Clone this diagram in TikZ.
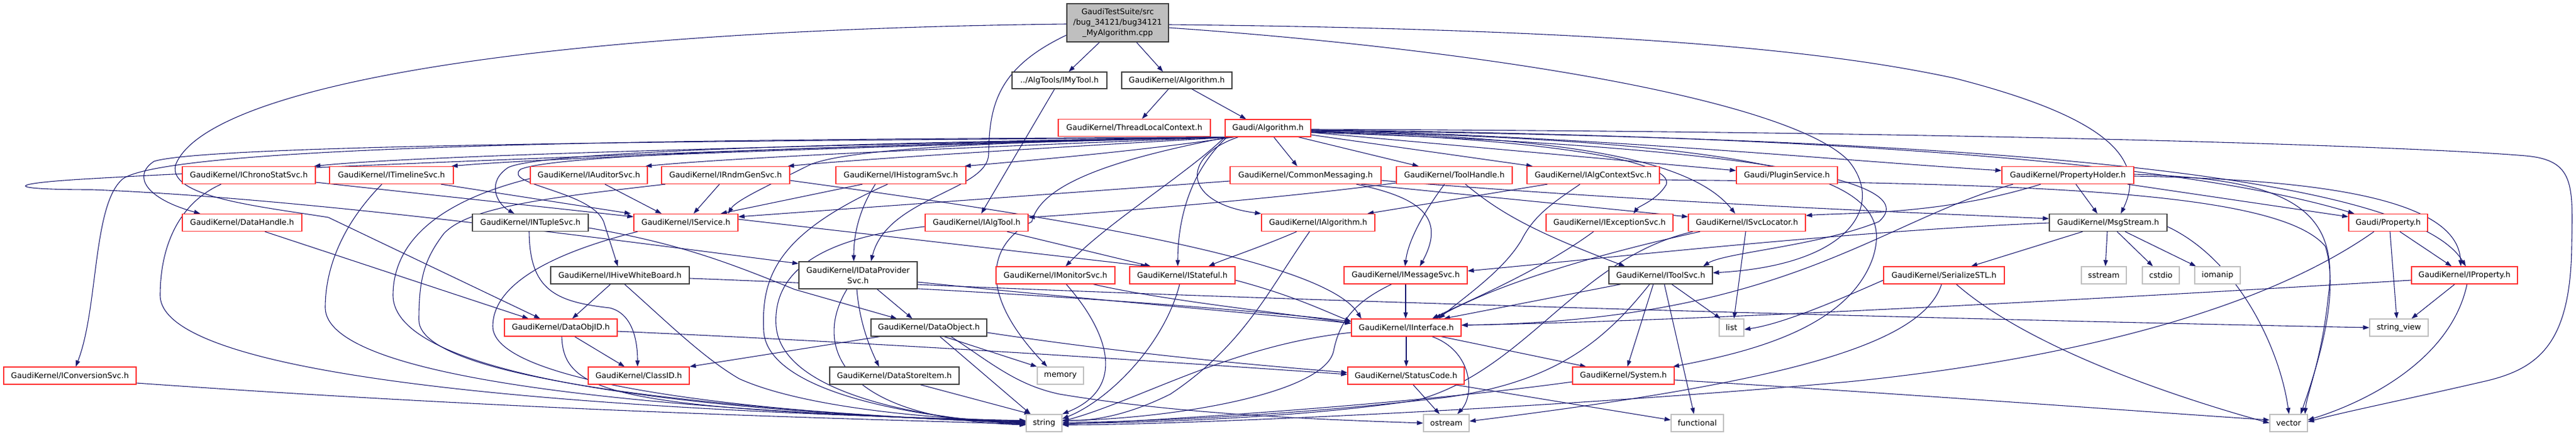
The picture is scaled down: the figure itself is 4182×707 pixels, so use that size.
\documentclass[tikz,border=0pt]{standalone}
\usepackage{fontspec}
\setmainfont{DejaVu Sans}
\usetikzlibrary{arrows.meta}
\definecolor{edgec}{HTML}{191970}
\definecolor{redc}{HTML}{FF3030}
\definecolor{grayc}{HTML}{BFBFBF}
\definecolor{blackc}{HTML}{404040}
\pgfdeclarelayer{edgelayer}
\pgfsetlayers{edgelayer,main}
\tikzset{
  box/.style={draw, rectangle, inner sep=0pt, fill=white, line width=1.3pt,
    font=\fontsize{12.7pt}{17pt}\selectfont, minimum height=28pt, align=center},
  rb/.style={box, draw=redc},
  kb/.style={box, draw=blackc},
  gb/.style={box, draw=grayc},
  rootb/.style={box, draw=blackc, fill=grayc},
  e/.style={draw=edgec, line width=1.1pt, -{Triangle[length=10pt,width=7pt]}, edgec}
}
\begin{document}
\begin{tikzpicture}[x=1pt,y=-1pt]
\useasboundingbox (0,0) rectangle (4182,707);
% ---------- nodes ----------
\node[rootb, minimum width=165pt, minimum height=62pt] (root) at (1814.5,37) {GaudiTestSuite/src\\/bug\_34121/bug34121\\\_MyAlgorithm.cpp};
\node[kb, minimum width=154pt, minimum height=27pt] (imytool) at (1720,130.5) {../AlgTools/IMyTool.h};
\node[kb, minimum width=179pt, minimum height=27pt] (algk) at (1910.5,130.5) {GaudiKernel/Algorithm.h};
\node[rb, minimum width=247pt] (tlc) at (1841.5,207.5) {GaudiKernel/ThreadLocalContext.h};
\node[rb, minimum width=139pt] (galg) at (2058.5,208) {Gaudi/Algorithm.h};
\node[rb, minimum width=216pt] (ichrono) at (404,284.5) {GaudiKernel/IChronoStatSvc.h};
\node[rb, minimum width=201pt] (itimeline) at (635.5,284.5) {GaudiKernel/ITimelineSvc.h};
\node[rb, minimum width=190pt] (iauditor) at (956,284.5) {GaudiKernel/IAuditorSvc.h};
\node[rb, minimum width=208pt] (irndm) at (1178,284.5) {GaudiKernel/IRndmGenSvc.h};
\node[rb, minimum width=211pt] (ihisto) at (1462.5,284.5) {GaudiKernel/IHistogramSvc.h};
\node[rb, minimum width=245pt] (commsg) at (2119.5,284.5) {GaudiKernel/CommonMessaging.h};
\node[rb, minimum width=188pt] (toolh) at (2361,284.5) {GaudiKernel/ToolHandle.h};
\node[rb, minimum width=215pt] (ialgctx) at (2586.5,284.5) {GaudiKernel/IAlgContextSvc.h};
\node[rb, minimum width=164pt] (plugin) at (2901,284.5) {Gaudi/PluginService.h};
\node[rb, minimum width=214pt] (propholder) at (3357,284.5) {GaudiKernel/PropertyHolder.h};
\node[rb, minimum width=194pt] (dhandle) at (393,361.5) {GaudiKernel/DataHandle.h};
\node[kb, minimum width=188pt] (intuple) at (861,361.5) {GaudiKernel/INTupleSvc.h};
\node[rb, minimum width=169pt] (iservice) at (1113.5,361.5) {GaudiKernel/IService.h};
\node[rb, minimum width=167pt] (ialgtool) at (1585.5,361.5) {GaudiKernel/IAlgTool.h};
\node[rb, minimum width=184pt] (ialgorithm) at (2140,361.5) {GaudiKernel/IAlgorithm.h};
\node[rb, minimum width=206pt] (iexc) at (2613,361.5) {GaudiKernel/IExceptionSvc.h};
\node[rb, minimum width=190pt] (isvcloc) at (2836,361.5) {GaudiKernel/ISvcLocator.h};
\node[kb, minimum width=191pt] (msgstream) at (3422.5,361.5) {GaudiKernel/MsgStream.h};
\node[rb, minimum width=128pt] (gprop) at (3877,361.5) {Gaudi/Property.h};
\node[kb, minimum width=225pt] (ihive) at (1006.5,447) {GaudiKernel/IHiveWhiteBoard.h};
\node[kb, minimum width=192pt, minimum height=44pt] (idps) at (1393,447) {GaudiKernel/IDataProvider\\Svc.h};
\node[rb, minimum width=193pt] (imonitor) at (1713.5,447) {GaudiKernel/IMonitorSvc.h};
\node[rb, minimum width=171pt] (istateful) at (1919.5,447) {GaudiKernel/IStateful.h};
\node[rb, minimum width=200pt] (imsgsvc) at (2282,447) {GaudiKernel/IMessageSvc.h};
\node[kb, minimum width=168pt] (itoolsvc) at (2696,447) {GaudiKernel/IToolSvc.h};
\node[rb, minimum width=196pt] (serstl) at (3156,447) {GaudiKernel/SerializeSTL.h};
\node[gb, minimum width=73pt] (sstream) at (3415.5,447) {sstream};
\node[gb, minimum width=60pt] (cstdio) at (3508,447) {cstdio};
\node[gb, minimum width=74pt] (iomanip) at (3600,447) {iomanip};
\node[rb, minimum width=172pt] (iprop) at (4001,447) {GaudiKernel/IProperty.h};
\node[rb, minimum width=183pt] (dobjid) at (910.5,532) {GaudiKernel/DataObjID.h};
\node[kb, minimum width=188pt] (dobject) at (1508,532) {GaudiKernel/DataObject.h};
\node[rb, minimum width=178pt] (iinterface) at (2283,532) {GaudiKernel/IInterface.h};
\node[gb, minimum width=40pt] (list) at (2811,532) {list};
\node[gb, minimum width=95pt] (strview) at (3894.5,532) {string\_view};
\node[rb, minimum width=215pt] (iconv) at (113.5,610) {GaudiKernel/IConversionSvc.h};
\node[rb, minimum width=164pt] (classid) at (1037,610) {GaudiKernel/ClassID.h};
\node[kb, minimum width=210pt] (dsitem) at (1452,610) {GaudiKernel/DataStoreItem.h};
\node[gb, minimum width=75pt] (memory) at (1721.5,610) {memory};
\node[rb, minimum width=189pt] (statuscode) at (2282.5,610) {GaudiKernel/StatusCode.h};
\node[rb, minimum width=165pt] (system) at (2635.5,610) {GaudiKernel/System.h};
\node[gb, minimum width=58pt] (string) at (1695,687) {string};
\node[gb, minimum width=74pt] (ostream) at (2348,687) {ostream};
\node[gb, minimum width=85pt] (functional) at (2755.5,687) {functional};
\node[gb, minimum width=61pt] (vector) at (3715.5,687) {vector};
% ---------- edges ----------
\begin{pgfonlayer}{edgelayer}
% root
\draw[e] (root.south -| 1785,0) -- (imytool.north -| 1735,0);
\draw[e] (root.south -| 1845,0) -- (algk.north -| 1888,0);
\draw[e] (root.west |- 0,39) .. controls (800,50) and (330,150) .. (285,268) .. controls (272,320) and (420,335) .. (533,353) -- (dobjid.north -| 877,0);
\draw[e] (root.west |- 0,57) .. controls (1620,110) and (1606,170) .. (1605,250) .. controls (1604,310) and (1440,320) .. (idps.north -| 1414,0);
\draw[e] (root.east |- 0,40) .. controls (2700,48) and (3000,90) .. (3173,127) .. controls (3400,185) and (3490,250) .. (msgstream.north -| 3443,0);
\draw[e] (root.east |- 0,45) .. controls (2400,80) and (2900,160) .. (3000,260) .. controls (3060,330) and (3010,430) .. (itoolsvc.east |- 0,443);
% imytool, algk
\draw[e] (imytool.south -| 1712,0) -- (ialgtool.north -| 1593,0);
\draw[e] (algk.south -| 1897,0) -- (tlc.north -| 1854,0);
\draw[e] (algk.south -| 1935,0) -- (galg.north -| 2023,0);
% Gaudi/Algorithm.h
\draw[e] (galg.south -| 1995,0) .. controls (1500,232) and (700,250) .. (ichrono.north -| 510,0);
\draw[e] (galg.south -| 1997,0) .. controls (1500,235) and (900,255) .. (itimeline.north -| 733,0);
\draw[e] (galg.south -| 1999,0) .. controls (1600,238) and (1200,255) .. (iauditor.north -| 1048,0);
\draw[e] (galg.south -| 2001,0) .. controls (1700,240) and (1400,258) .. (irndm.north -| 1279,0);
\draw[e] (galg.south -| 2003,0) .. controls (1850,245) and (1700,258) .. (ihisto.north -| 1566,0);
\draw[e] (galg.south -| 2068,0) -- (commsg.north -| 2106,0);
\draw[e] (galg.south -| 2108,0) -- (toolh.north -| 2303,0);
\draw[e] (galg.east |- 0,219) -- (ialgctx.north -| 2488,0);
\draw[e] (galg.east |- 0,215) -- (plugin.west |- 0,277);
\draw[e] (galg.east |- 0,211) .. controls (2600,222) and (3000,262) .. (propholder.west |- 0,277);
\draw[e] (galg.south -| 1991,0) .. controls (1500,228) and (350,230) .. (250,262) .. controls (215,285) and (235,322) .. (dhandle.north -| 325,0);
\draw[e] (galg.south -| 1990,0) .. controls (1500,226) and (300,224) .. (200,290) .. controls (150,330) and (160,500) .. (iconv.north -| 123,0);
\draw[e] (galg.south -| 1993,0) .. controls (1500,230) and (450,272) .. (150,290) .. controls (5,298) and (5,308) .. (150,308) .. controls (500,322) and (1000,390) .. (idps.west |- 0,428);
\draw[e] (galg.south -| 1998,0) .. controls (1400,232) and (880,245) .. (825,272) .. controls (790,295) and (805,330) .. (intuple.north -| 835,0);
\draw[e] (galg.south -| 2005,0) .. controls (1600,230) and (1380,242) .. (1316,267) .. controls (1250,300) and (1195,325) .. (iservice.north -| 1182,0);
\draw[e] (galg.south -| 2000,0) .. controls (1400,236) and (900,250) .. (845,275) .. controls (815,300) and (960,310) .. (980,360) -- (ihive.north -| 1003,0);
\draw[e] (galg.south -| 2010,0) .. controls (1915,255) and (1920,330) .. (ialgorithm.north west);
\draw[e] (galg.east |- 0,214) .. controls (2500,225) and (2720,260) .. (2705,300) .. controls (2690,325) and (2660,335) .. (iexc.north -| 2652,0);
\draw[e] (galg.east |- 0,213) .. controls (2500,222) and (2740,250) .. (isvcloc.north -| 2817,0);
\draw[e] (galg.south west) .. controls (1930,280) and (1800,360) .. (imonitor.north -| 1730,0);
\draw[e] (galg.south -| 1992,0) .. controls (1930,280) and (1912,360) .. (istateful.north -| 1912,0);
\draw[e] (galg.east |- 0,215) .. controls (2900,240) and (3120,300) .. (3050,360) .. controls (2950,400) and (2800,410) .. (itoolsvc.north -| 2765,0);
\draw[e] (galg.east |- 0,213) .. controls (2950,230) and (3080,300) .. (3040,420) .. controls (3000,530) and (2850,570) .. (system.north -| 2716,0);
\draw[e] (galg.east |- 0,211) .. controls (2800,218) and (3500,250) .. (gprop.north -| 3822,0);
\draw[e] (galg.east |- 0,212) .. controls (3000,222) and (3900,262) .. (iprop.north -| 4003,0);
\draw[e] (galg.east |- 0,210) .. controls (3300,214) and (3950,240) .. (4100,253) .. controls (4180,260) and (4177,300) .. (4175,400) .. controls (4173,560) and (4120,600) .. (4030,620) .. controls (3900,650) and (3800,670) .. (vector.east |- 0,685);
\draw[e] (galg.south -| 1994,0) .. controls (1800,260) and (1690,300) .. (1675,360) .. controls (1600,400) and (1590,480) .. (memory.north -| 1700,0);
% row 271
\draw[e] (ichrono.east |- 0,296) -- (iservice.west |- 0,352);
\draw[e] (ichrono.south -| 359,0) .. controls (290,330) and (260,400) .. (260,480) .. controls (262,610) and (900,665) .. (string.west |- 0,683);
\draw[e] (itimeline.south -| 716,0) -- (iservice.north -| 1024,0);
\draw[e] (itimeline.south -| 620,0) .. controls (560,360) and (528,430) .. (528,500) .. controls (530,610) and (1000,665) .. (string.west |- 0,685);
\draw[e] (iauditor.south -| 982,0) -- (iservice.north -| 1074,0);
\draw[e] (iauditor.west |- 0,290) .. controls (700,330) and (638,400) .. (638,480) .. controls (640,610) and (1100,668) .. (string.west |- 0,686);
\draw[e] (irndm.south -| 1168,0) -- (iservice.north -| 1126,0);
\draw[e] (irndm.south -| 1080,0) .. controls (900,320) and (760,335) .. (720,380) .. controls (690,420) and (680,450) .. (680,520) .. controls (682,620) and (1200,668) .. (string.west |- 0,687);
\draw[e] (irndm.east |- 0,293) .. controls (1700,350) and (2150,420) .. (iinterface.north -| 2210,0);
\draw[e] (ihisto.south -| 1400,0) -- (iservice.north -| 1170,0);
\draw[e] (ihisto.south -| 1421,0) .. controls (1395,340) and (1386,380) .. (idps.north -| 1386,0);
\draw[e] (ihisto.south -| 1441,0) .. controls (1260,380) and (1235,450) .. (1240,540) .. controls (1250,640) and (1500,680) .. (string.west |- 0,688);
\draw[e] (commsg.south -| 2202,0) .. controls (2300,320) and (2350,350) .. (imsgsvc.north -| 2305,0);
\draw[e] (commsg.west |- 0,294) -- (iservice.east |- 0,352);
\draw[e] (commsg.south -| 2210,0) -- (isvcloc.west |- 0,352);
\draw[e] (commsg.east |- 0,293) .. controls (2700,330) and (3100,345) .. (msgstream.west |- 0,355);
\draw[e] (toolh.south -| 2379,0) .. controls (2440,350) and (2500,380) .. (itoolsvc.north -| 2638,0);
\draw[e] (toolh.west |- 0,297) .. controls (2100,320) and (1800,345) .. (ialgtool.east |- 0,353);
\draw[e] (toolh.south -| 2345,0) .. controls (2300,360) and (2285,400) .. (imsgsvc.north -| 2281,0);
\draw[e] (ialgctx.south -| 2512,0) -- (ialgorithm.north -| 2220,0);
\draw[e] (ialgctx.south -| 2565,0) .. controls (2520,330) and (2490,350) .. (2470,390) .. controls (2440,440) and (2380,480) .. (iinterface.north -| 2336,0);
\draw[e] (ialgctx.east |- 0,292) .. controls (3300,298) and (3700,310) .. (3775,400) .. controls (3800,480) and (3760,600) .. (vector.north -| 3735,0);
\draw[e] (propholder.south -| 3370,0) -- (msgstream.north -| 3405,0);
\draw[e] (propholder.south -| 3454,0) -- (gprop.west |- 0,352);
\draw[e] (propholder.east |- 0,286) .. controls (3800,292) and (3990,330) .. (iprop.north -| 3995,0);
\draw[e] (propholder.south -| 3313,0) .. controls (3150,350) and (3000,345) .. (isvcloc.east |- 0,350);
\draw[e] (propholder.south -| 3268,0) .. controls (3050,360) and (2900,520) .. (iinterface.east |- 0,528);
\draw[e] (propholder.east |- 0,283) .. controls (3700,290) and (3800,330) .. (3780,480) .. controls (3770,580) and (3745,640) .. (vector.north -| 3742,0);
% row 348
\draw[e] (ialgtool.south -| 1635,0) -- (istateful.north -| 1868,0);
\draw[e] (ialgtool.west |- 0,368) .. controls (1300,390) and (1255,460) .. (1260,530) .. controls (1270,640) and (1500,680) .. (string.west |- 0,689);
\draw[e] (iservice.east |- 0,356) -- (istateful.north -| 1862,0);
\draw[e] (iservice.south -| 1035,0) .. controls (900,410) and (800,460) .. (800,530) .. controls (800,620) and (1200,672) .. (string.west |- 0,686);
\draw[e] (dhandle.south -| 430,0) -- (dobjid.north -| 858,0);
\draw[e] (intuple.south -| 859,0) .. controls (860,470) and (900,490) .. (990,500) .. controls (1030,510) and (1035,560) .. (classid.north -| 1035,0);
\draw[e] (intuple.east |- 0,370) .. controls (1100,395) and (1180,425) .. (1290,470) -- (dobject.north -| 1456,0);
\draw[e] (ialgorithm.south -| 2105,0) .. controls (2050,400) and (1990,420) .. (istateful.north -| 1962,0);
\draw[e] (ialgorithm.south -| 2126,0) .. controls (2060,470) and (2020,560) .. (1900,640) .. controls (1820,680) and (1760,684) .. (string.east |- 0,682);
\draw[e] (iexc.south -| 2587,0) .. controls (2500,440) and (2380,490) .. (iinterface.north -| 2325,0);
\draw[e] (isvcloc.south -| 2834,0) -- (list.north -| 2815,0);
\draw[e] (isvcloc.south -| 2760,0) .. controls (2650,400) and (2450,450) .. (iinterface.north -| 2330,0);
\draw[e] (isvcloc.south -| 2748,0) .. controls (2560,420) and (2480,600) .. (2300,650) .. controls (2100,680) and (1850,686) .. (string.east |- 0,688);
\draw[e] (msgstream.west |- 0,362) .. controls (3000,375) and (2600,420) .. (imsgsvc.east |- 0,440);
\draw[e] (msgstream.south -| 3381,0) -- (serstl.north -| 3200,0);
\draw[e] (msgstream.south -| 3421,0) -- (sstream.north -| 3418,0);
\draw[e] (msgstream.south -| 3437,0) -- (cstdio.north -| 3495,0);
\draw[e] (msgstream.south -| 3450,0) -- (iomanip.north -| 3565,0);
\draw[e] (msgstream.east |- 0,368) .. controls (3630,420) and (3700,560) .. (vector.north -| 3716,0);
\draw[e] (gprop.south -| 3896,0) -- (iprop.north -| 3980,0);
\draw[e] (gprop.south -| 3880,0) -- (strview.north -| 3891,0);
\draw[e] (gprop.south -| 3854,0) .. controls (3650,520) and (3300,590) .. (3000,620) .. controls (2500,665) and (1900,690) .. (string.east |- 0,690);
% row 433
\draw[e] (istateful.east |- 0,455) .. controls (2100,480) and (2150,505) .. (iinterface.west |- 0,522);
\draw[e] (istateful.south -| 1915,0) .. controls (1890,560) and (1800,650) .. (string.east |- 0,680);
\draw[e] (imonitor.south -| 1775,0) .. controls (1900,490) and (2100,510) .. (iinterface.west |- 0,525);
\draw[e] (imonitor.south -| 1731,0) .. controls (1800,540) and (1830,630) .. (string.north east);
\draw[e] (ihive.south -| 991,0) -- (dobjid.north -| 929,0);
\draw[e] (ihive.south -| 1014,0) .. controls (1080,520) and (1140,580) .. (1200,615) .. controls (1300,660) and (1500,680) .. (string.west |- 0,684);
\draw[e] (ihive.east |- 0,452) .. controls (1600,470) and (2000,500) .. (iinterface.west |- 0,522);
\draw[e] (idps.south -| 1424,0) -- (dobject.north -| 1481,0);
\draw[e] (idps.south -| 1391,0) .. controls (1395,520) and (1410,560) .. (dsitem.north -| 1427,0);
\draw[e] (idps.south -| 1375,0) .. controls (1320,560) and (1360,680) .. (string.west |- 0,690);
\draw[e] (idps.east |- 0,458) .. controls (1700,480) and (2000,505) .. (iinterface.west |- 0,525);
\draw[e] (idps.east |- 0,462) .. controls (2000,485) and (3000,515) .. (strview.west |- 0,532);
\draw[e] (imsgsvc.south) -- (iinterface.north -| 2282,0);
\draw[e] (imsgsvc.south -| 2259,0) .. controls (2200,490) and (2175,520) .. (2165,570) .. controls (2150,640) and (1900,680) .. (string.east |- 0,683);
\draw[e] (itoolsvc.south -| 2631,0) -- (iinterface.north -| 2344,0);
\draw[e] (itoolsvc.south -| 2684,0) -- (system.north -| 2642,0);
\draw[e] (itoolsvc.south -| 2702,0) -- (functional.north -| 2750,0);
\draw[e] (itoolsvc.south -| 2714,0) -- (list.north -| 2793,0);
\draw[e] (itoolsvc.south -| 2678,0) .. controls (2600,560) and (2520,620) .. (2350,645) .. controls (2100,675) and (1850,685) .. (string.east |- 0,686);
\draw[e] (serstl.south -| 3176,0) .. controls (3300,570) and (3550,650) .. (vector.west |- 0,687);
\draw[e] (serstl.south -| 3152,0) .. controls (3120,560) and (2900,620) .. (ostream.east |- 0,684);
\draw[e] (serstl.west |- 0,455) .. controls (3000,480) and (2900,525) .. (list.east |- 0,535);
\draw[e] (iprop.south -| 3985,0) -- (strview.north -| 3915,0);
\draw[e] (iprop.west |- 0,455) .. controls (3500,480) and (2800,520) .. (iinterface.east |- 0,528);
\draw[e] (iprop.south -| 4005,0) .. controls (3980,580) and (3850,650) .. (vector.east |- 0,682);
% row 518
\draw[e] (dobject.south -| 1428,0) -- (classid.north east);
\draw[e] (dobject.south -| 1526,0) -- (string.north -| 1673,0);
\draw[e] (dobject.south -| 1533,0) -- (memory.north west);
\draw[e] (dobject.south -| 1544,0) .. controls (1610,590) and (1650,625) .. (1720,640) .. controls (1900,670) and (2100,680) .. (ostream.west |- 0,687);
\draw[e] (dobject.east |- 0,540) .. controls (1800,570) and (2000,590) .. (statuscode.west |- 0,605);
\draw[e] (dobjid.south -| 933,0) -- (classid.north -| 1014,0);
\draw[e] (dobjid.south -| 912,0) .. controls (915,640) and (1000,665) .. (string.west |- 0,684);
\draw[e] (dobjid.east |- 0,538) .. controls (1500,560) and (2000,595) .. (statuscode.west |- 0,608);
\draw[e] (iinterface.south) -- (statuscode.north -| 2283,0);
\draw[e] (iinterface.south -| 2340,0) -- (system.north -| 2575,0);
\draw[e] (iinterface.south -| 2325,0) .. controls (2390,570) and (2395,640) .. (ostream.north -| 2366,0);
\draw[e] (iinterface.west |- 0,540) .. controls (2000,560) and (1850,650) .. (string.east |- 0,684);
% row 596
\draw[e] (dsitem.south -| 1494,0) -- (string.north -| 1673,0);
\draw[e] (iconv.east |- 0,622) .. controls (900,670) and (1400,680) .. (string.west |- 0,689);
\draw[e] (statuscode.south -| 2294,0) -- (ostream.north -| 2337,0);
\draw[e] (statuscode.south -| 2361,0) -- (functional.west |- 0,682);
\draw[e] (system.west |- 0,620) .. controls (2300,655) and (1900,682) .. (string.east |- 0,689);
\draw[e] (system.east |- 0,617) .. controls (3100,640) and (3500,670) .. (vector.west |- 0,682);
\end{pgfonlayer}
\end{tikzpicture}
\end{document}
